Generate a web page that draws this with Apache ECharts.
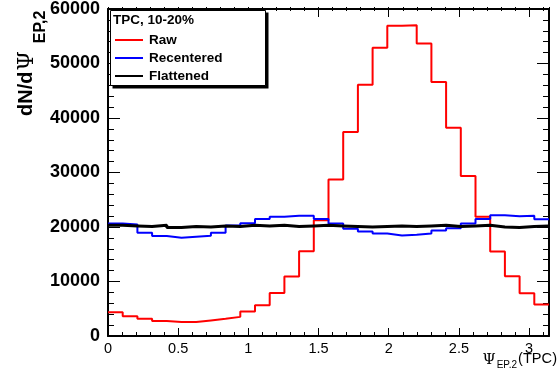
<!DOCTYPE html>
<html><head><meta charset="utf-8">
<script src="https://cdn.jsdelivr.net/npm/echarts@6/dist/echarts.min.js"></script>
<style>html,body{margin:0;padding:0;background:#fff}#c{width:559px;height:368px}</style>
</head><body><div id="c"></div>
<script>
// ---- data (30 bins from 0 to pi) ----
const xRange = [0, Math.PI];
const yRange = [0, 60000];
const seriesNames = ['Raw', 'Recentered', 'Flattened'];
const legendHeader = 'TPC, 10-20%';
const rawValues = [4370, 3640, 3150, 2730, 2550, 2550, 2860, 3150, 3510, 4500,
  5640, 7880, 10920, 15530, 21240, 28700, 37440, 46100, 52910, 56910,
  57020, 53690, 46590, 38220, 29360, 21900, 15520, 10970, 7830, 5770];
const recenteredValues = [20620, 20440, 18930, 18330, 18020, 18200, 18380, 18930, 20260, 20690,
  21480, 21890, 22080, 22080, 21480, 20620, 19660, 19170, 18800, 18440,
  18560, 18800, 19350, 19780, 20620, 21480, 22150, 21970, 22080, 21420];
const flattenedValues = [20300, 20200, 20100, 20300, 19900, 20100, 20000, 20200, 20100, 20300,
  20200, 20300, 20100, 20200, 20300, 20200, 20100, 20000, 20100, 20200,
  20100, 20200, 20300, 20100, 20200, 20300, 20000, 19900, 20100, 20200];

function toSteps(vals) {
  const w = (xRange[1] - xRange[0]) / vals.length;
  const pts = vals.map((v, i) => [xRange[0] + i * w, v]);
  pts.push([xRange[1], vals[vals.length - 1]]);
  return pts;
}

const FONT = '"Liberation Sans", Arial, Helvetica, sans-serif';
const chart = echarts.init(document.getElementById('c'), null, {renderer: 'canvas'});
const gridPos = {left: 108, right: 10, top: 7, bottom: 32};
const majorLbl = v => {
  const k = v / 0.5;
  return Math.abs(k - Math.round(k)) < 1e-6 ? String(Math.round(k) * 0.5) : '';
};
const lineBlack = w => ({show: true, onZero: false, lineStyle: {color: '#000', width: w}});
const tick = len => ({show: true, inside: true, length: len, lineStyle: {color: '#000', width: 1}});

const option = {
  animation: false,
  backgroundColor: '#fff',
  grid: [Object.assign({}, gridPos), Object.assign({}, gridPos)],
  xAxis: [
    {gridIndex: 0, type: 'value', min: xRange[0], max: xRange[1], interval: 0.5, position: 'bottom',
      axisLine: lineBlack(2), axisTick: tick(8),
      axisLabel: {show: true, formatter: majorLbl, margin: 5, color: '#000', fontSize: 14.5, fontFamily: FONT},
      splitLine: {show: false}},
    {gridIndex: 0, type: 'value', min: xRange[0], max: xRange[1], interval: 0.5, position: 'top',
      axisLine: lineBlack(2), axisTick: tick(8),
      axisLabel: {show: false}, splitLine: {show: false}},
    {gridIndex: 1, type: 'value', min: xRange[0], max: xRange[1], interval: 0.1, position: 'bottom',
      axisLine: {show: false, onZero: false}, axisTick: tick(4),
      axisLabel: {show: false}, splitLine: {show: false}},
    {gridIndex: 1, type: 'value', min: xRange[0], max: xRange[1], interval: 0.1, position: 'top',
      axisLine: {show: false, onZero: false}, axisTick: tick(4),
      axisLabel: {show: false}, splitLine: {show: false}}
  ],
  yAxis: [
    {gridIndex: 0, type: 'value', min: yRange[0], max: yRange[1], interval: 10000, position: 'left',
      axisLine: lineBlack(2), axisTick: tick(12),
      minorTick: {show: true, splitNumber: 5, length: 6, lineStyle: {color: '#000', width: 1}},
      axisLabel: {show: true, formatter: v => String(v), margin: 8, color: '#000', fontSize: 18, fontWeight: 'bold', fontFamily: FONT},
      splitLine: {show: false}, minorSplitLine: {show: false}},
    {gridIndex: 0, type: 'value', min: yRange[0], max: yRange[1], interval: 10000, position: 'right',
      axisLine: lineBlack(2), axisTick: tick(12),
      minorTick: {show: true, splitNumber: 5, length: 6, lineStyle: {color: '#000', width: 1}},
      axisLabel: {show: false}, splitLine: {show: false}, minorSplitLine: {show: false}},
    {gridIndex: 1, type: 'value', min: yRange[0], max: yRange[1], show: false}
  ],
  legend: {
    orient: 'vertical', left: 114, top: 33, padding: 0, itemGap: 4,
    itemWidth: 28, itemHeight: 14, z: 20,
    itemStyle: {opacity: 0},
    textStyle: {color: '#000', fontSize: 13.5, fontWeight: 'bold', fontFamily: FONT, padding: [0, 0, 0, 1]},
    data: seriesNames
  },
  graphic: [
    {type: 'rect', z: 5, shape: {x: 112.5, y: 12.5, width: 156, height: 76}, style: {fill: '#000'}},
    {type: 'rect', z: 6, shape: {x: 110.5, y: 10.5, width: 155, height: 75}, style: {fill: '#fff', stroke: '#000', lineWidth: 1}},
    {type: 'text', z: 20, x: 113, y: 20, style: {text: legendHeader, fill: '#000',
      font: 'bold 13.5px ' + FONT, textAlign: 'left', textVerticalAlign: 'middle', align: 'left', verticalAlign: 'middle'}},
    {type: 'text', z: 20, x: 16, y: 116, rotation: Math.PI / 2,
      style: {text: '{a|dN/d}{p|Ψ}{s|EP,2}', fill: '#000', textAlign: 'left', textVerticalAlign: 'top', align: 'left', verticalAlign: 'top',
        rich: {
          a: {fontSize: 20, fontWeight: 'bold', fontFamily: FONT, lineHeight: 22, verticalAlign: 'top', fill: '#000'},
          p: {fontSize: 22, fontFamily: '"DejaVu Serif", serif', lineHeight: 24, verticalAlign: 'top', padding: [0, 0, 0, 1], fill: '#000'},
          s: {fontSize: 16, fontWeight: 'bold', fontFamily: FONT, lineHeight: 17, verticalAlign: 'top', padding: [17, 0, 0, 8], fill: '#000'}
        }}},
    {type: 'text', z: 20, x: 557, y: 351,
      style: {text: '{p|Ψ}{s|EP,2}{t|(TPC)}', fill: '#000', textAlign: 'right', textVerticalAlign: 'top', align: 'right', verticalAlign: 'top',
        rich: {
          p: {fontSize: 15, fontFamily: '"DejaVu Serif", serif', lineHeight: 16, verticalAlign: 'top', padding: [2, 1, 0, 0], fill: '#000'},
          s: {fontSize: 10, fontFamily: FONT, lineHeight: 11, verticalAlign: 'top', padding: [9, 1, 0, 0], fill: '#000'},
          t: {fontSize: 14.6, fontFamily: FONT, lineHeight: 16, verticalAlign: 'top', fill: '#000'}
        }}}
  ],
  series: [
    {name: seriesNames[0], type: 'line', step: 'end', symbol: 'none', xAxisIndex: 0, yAxisIndex: 0,
      color: '#ff0000', lineStyle: {color: '#ff0000', width: 2}, data: toSteps(rawValues), z: 3},
    {name: seriesNames[1], type: 'line', step: 'end', symbol: 'none', xAxisIndex: 0, yAxisIndex: 0,
      color: '#0000ff', lineStyle: {color: '#0000ff', width: 2}, data: toSteps(recenteredValues), z: 3},
    {name: seriesNames[2], type: 'line', step: 'end', symbol: 'none', xAxisIndex: 0, yAxisIndex: 0,
      color: '#000000', lineStyle: {color: '#000000', width: 3}, data: toSteps(flattenedValues), z: 4}
  ]
};
chart.setOption(option);
</script>
</body></html>
